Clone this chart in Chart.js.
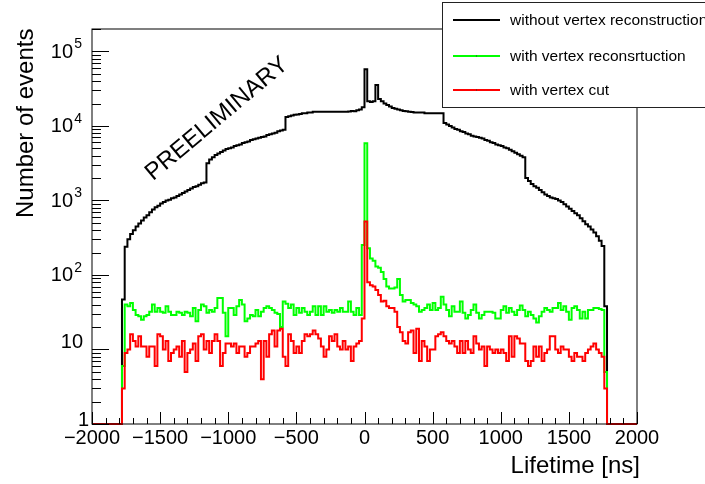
<!DOCTYPE html>
<html>
<head>
<meta charset="utf-8">
<script src="https://cdn.jsdelivr.net/npm/chart.js@4.4.1/dist/chart.umd.min.js"></script>
<style>
  html, body { margin: 0; padding: 0; background: #fff; }
  canvas { display: block; }
</style>
</head>
<body>
<canvas id="chart" width="705" height="484"></canvas>
<script>
// histogram binning: 200 bins of 20 ns from -2000 to 2000
const xMin = -2000;
const xMax = 2000;
const binWidth = 20;

// counts per bin, left edge -2000 ... 1980
const withoutVertex = [
  0, 0, 0, 0, 0, 0, 0, 0, 0, 0, 0,
  47, 240, 302, 355, 398, 447, 490, 537, 589, 631,
  692, 759, 813, 851, 912, 955, 1000, 1023, 1072, 1096,
  1148, 1202, 1259, 1318, 1380, 1445, 1514, 1549, 1622, 1698,
  1738, 3162, 3548, 3802, 4074, 4266, 4467, 4677, 4898, 5012,
  5129, 5370, 5495, 5623, 5888, 6026, 6166, 6457, 6607, 6761,
  6918, 7079, 7244, 7586, 7762, 7943, 8128, 8511, 8710, 8913,
  13180, 13490, 13800, 14130, 14200, 14450, 14790, 14800, 15140, 15100,
  15490, 15450, 15500, 15480, 15520, 15490, 15470, 15510, 15490, 15460,
  15500, 15520, 15480, 15600, 15850, 15800, 16220, 16600, 17780,
  57540, 21380, 20890, 21380, 35480, 22910, 21380, 19950, 19050, 18200,
  17380, 16980, 16600, 16220, 15850, 15800, 15490, 15400, 15140, 15160,
  15120, 15140, 14790, 14800, 14780, 14790, 14810, 14780, 14790,
  10960, 10470, 10000, 9550, 9120, 8913, 8511, 8318, 7943, 7762,
  7413, 7244, 7079, 6918, 6761, 6457, 6310, 6026, 5888, 5623,
  5495, 5370, 5129, 5012, 4786, 4571, 4365, 4169, 3981, 3802,
  1995, 1820, 1660, 1549, 1479, 1380, 1288, 1202, 1148, 1096,
  1072, 1047, 1000, 955, 891, 832, 776, 724, 676, 631,
  575, 525, 479, 447, 407, 372, 331, 288, 245, 38,
  0, 0, 0, 0, 0, 0, 0, 0, 0, 0, 0
];

const withVertex = [
  0, 0, 0, 0, 0, 0, 0, 0, 0, 0, 0,
  6, 40, 38, 42, 34, 29, 28, 25, 28, 29,
  32, 40, 32, 36, 32, 31, 38, 32, 29, 29,
  32, 31, 29, 32, 31, 28, 36, 24, 34, 40,
  38, 31, 34, 32, 36, 49, 49, 31, 15, 36,
  36, 29, 38, 46, 40, 24, 26, 29, 28, 34,
  28, 32, 36, 38, 36, 34, 31, 30, 20, 44,
  41, 36, 40, 29, 36, 31, 36, 32, 29, 32,
  38, 29, 38, 29, 38, 32, 34, 31, 34, 32,
  36, 32, 32, 44, 32, 29, 36, 29, 253,
  5860, 229, 167, 155, 130, 125, 110, 88, 70, 66,
  66, 68, 88, 54, 44, 46, 46, 42, 40, 38,
  32, 34, 36, 40, 34, 42, 34, 36, 51, 40,
  34, 28, 38, 32, 32, 44, 31, 26, 29, 34,
  40, 31, 26, 29, 32, 32, 32, 31, 26, 26,
  34, 38, 31, 36, 32, 29, 34, 39, 34, 28,
  32, 29, 26, 23, 28, 32, 36, 34, 32, 36,
  36, 42, 34, 38, 32, 25, 36, 38, 34, 26,
  32, 26, 34, 34, 36, 36, 35, 34, 5,
  0, 0, 0, 0, 0, 0, 0, 0, 0, 0, 0
];

const withCut = [
  0, 0, 0, 0, 0, 0, 0, 0, 0, 0, 0,
  3, 9, 10, 16, 13, 11, 15, 11, 11, 8,
  11, 11, 6, 16, 15, 10, 13, 7, 9, 10,
  11, 8, 13, 5, 9, 10, 12, 7, 15, 16,
  10, 13, 9, 13, 16, 13, 6, 9, 12, 12,
  11, 12, 9, 11, 11, 8, 9, 11, 11, 12,
  13, 4, 13, 8, 16, 18, 11, 18, 19, 8,
  6, 16, 13, 9, 11, 9, 13, 16, 15, 16,
  18, 16, 14, 11, 8, 10, 15, 13, 16, 11,
  10, 13, 10, 11, 7, 11, 12, 13, 26,
  520, 80, 73, 70, 63, 54, 44, 45, 38, 36,
  36, 32, 20, 17, 13, 12, 17, 18, 9, 19,
  7, 13, 11, 7, 10, 10, 15, 16, 17, 15,
  13, 12, 13, 11, 9, 13, 9, 13, 10, 9,
  15, 12, 10, 11, 6, 11, 10, 9, 10, 9,
  10, 9, 7, 15, 8, 15, 14, 12, 12, 7,
  6, 7, 11, 8, 11, 7, 9, 10, 15, 15,
  10, 9, 11, 10, 10, 8, 7, 9, 8, 8,
  7, 9, 10, 11, 12, 10, 9, 8, 3,
  0, 0, 0, 0, 0, 0, 0, 0, 0, 0, 0
];

const seriesLabels = ['without vertex reconstruction', 'with vertex reconsrtuction', 'with vertex cut'];
const seriesColors = ['#000000', '#00ff00', '#ff0000'];

const xMajorTicks = [-2000, -1500, -1000, -500, 0, 500, 1000, 1500, 2000];
const xTickLabels = ['\u22122000', '\u22121500', '\u22121000', '\u2212500', '0', '500', '1000', '1500', '2000'];
const yMin = 1;
const yMax = 2e5;
const yMajorTicks = [1, 10, 100, 1000, 10000, 100000];
const yTickBase = ['1', '10', '10', '10', '10', '10'];
const yTickExp = ['', '', '2', '3', '4', '5'];

const FONT = '"Liberation Sans", Arial, sans-serif';

// left edges of the bins, plus the closing edge so the last step is drawn
function toSteps(counts) {
  const pts = counts.map((c, i) => ({ x: xMin + i * binWidth, y: Math.max(c, yMin) }));
  pts.push({ x: xMax, y: Math.max(counts[counts.length - 1], yMin) });
  return pts;
}

const rootLook = {
  id: 'rootLook',
  afterDraw(chart) {
    const ctx = chart.ctx;
    const a = chart.chartArea;
    const sx = chart.scales.x;
    const sy = chart.scales.y;
    ctx.save();
    ctx.strokeStyle = '#000';
    ctx.lineWidth = 1;

    // frame
    ctx.strokeRect(a.left, a.top, a.right - a.left, a.bottom - a.top);

    // x ticks, drawn inside the frame
    ctx.beginPath();
    for (let v = xMin; v <= xMax; v += 100) {
      const px = Math.round(sx.getPixelForValue(v)) + 0.5;
      const len = xMajorTicks.includes(v) ? 12 : 6;
      ctx.moveTo(px, a.bottom);
      ctx.lineTo(px, a.bottom - len);
    }
    // y ticks
    for (let d = 1; d <= yMax; d *= 10) {
      for (let m = 1; m <= 9; m++) {
        const v = m * d;
        if (v > yMax) break;
        const py = Math.round(sy.getPixelForValue(v)) + 0.5;
        const len = m === 1 ? 17 : 9;
        ctx.moveTo(a.left, py);
        ctx.lineTo(a.left + len, py);
      }
    }
    ctx.stroke();

    // x tick labels
    ctx.fillStyle = '#000';
    ctx.font = '20px ' + FONT;
    ctx.textAlign = 'center';
    ctx.textBaseline = 'middle';
    xMajorTicks.forEach((v, i) => {
      ctx.fillText(xTickLabels[i], sx.getPixelForValue(v), a.bottom + 14);
    });

    // y tick labels with superscript exponents
    yMajorTicks.forEach((v, i) => {
      const py = sy.getPixelForValue(v);
      ctx.textBaseline = 'middle';
      if (yTickExp[i]) {
        ctx.font = '14px ' + FONT;
        ctx.textAlign = 'right';
        ctx.fillText(yTickExp[i], 82, py - 7);
        ctx.font = '20px ' + FONT;
        ctx.fillText(yTickBase[i], 73, py + 1);
      } else {
        ctx.font = '20px ' + FONT;
        ctx.textAlign = 'right';
        const dx = v === 1 ? 89 : 83;
        const dy = v === 1 ? -4 : -7;
        ctx.fillText(yTickBase[i], dx, py + dy);
      }
    });

    // axis titles
    ctx.font = '24px ' + FONT;
    ctx.textAlign = 'right';
    ctx.textBaseline = 'alphabetic';
    ctx.fillText('Lifetime [ns]', 640, 473);
    ctx.save();
    ctx.translate(33, 218);
    ctx.rotate(-Math.PI / 2);
    ctx.textAlign = 'left';
    ctx.fillText('Number of events', 0, 0);
    ctx.restore();

    // PRELIMINARY stamp
    ctx.save();
    ctx.translate(217, 119);
    ctx.rotate(-40 * Math.PI / 180);
    ctx.font = '24px ' + FONT;
    ctx.textAlign = 'center';
    ctx.textBaseline = 'middle';
    ctx.fillText('PREELIMINARY', 0, 0);
    ctx.restore();

    // legend box (runs off the right edge like the original)
    ctx.fillStyle = '#fff';
    ctx.fillRect(442, 2, 270, 106);
    ctx.strokeStyle = '#222';
    ctx.strokeRect(442.5, 2.5, 270, 105);
    const rows = [20, 56, 90];
    ctx.font = '15.5px ' + FONT;
    ctx.textAlign = 'left';
    ctx.textBaseline = 'middle';
    seriesLabels.forEach((lab, i) => {
      ctx.strokeStyle = seriesColors[i];
      ctx.lineWidth = 2;
      ctx.beginPath();
      ctx.moveTo(453, rows[i]);
      ctx.lineTo(500, rows[i]);
      ctx.stroke();
      if (i > 0) {
        ctx.fillStyle = '#333';
        ctx.fillRect(476, rows[i] - 0.5, 1, 1);
      }
      ctx.fillStyle = '#000';
      ctx.fillText(lab, 510, rows[i] + 1);
    });
    ctx.restore();
  }
};

const series = [withoutVertex, withVertex, withCut];

new Chart(document.getElementById('chart').getContext('2d'), {
  type: 'line',
  data: {
    datasets: series.map((counts, i) => ({
      label: seriesLabels[i],
      data: toSteps(counts),
      borderColor: seriesColors[i],
      borderWidth: 2,
      stepped: true,
      pointRadius: 0,
      fill: false,
      clip: false,
      order: 3 - i // red on top, black underneath
    }))
  },
  options: {
    responsive: false,
    animation: false,
    layout: { padding: { left: 92, right: 68, top: 29, bottom: 60 } },
    scales: {
      x: { type: 'linear', min: xMin, max: xMax, display: false },
      y: { type: 'logarithmic', min: yMin, max: yMax, display: false }
    },
    plugins: {
      legend: { display: false },
      tooltip: { enabled: false }
    }
  },
  plugins: [rootLook]
});
</script>
</body>
</html>
